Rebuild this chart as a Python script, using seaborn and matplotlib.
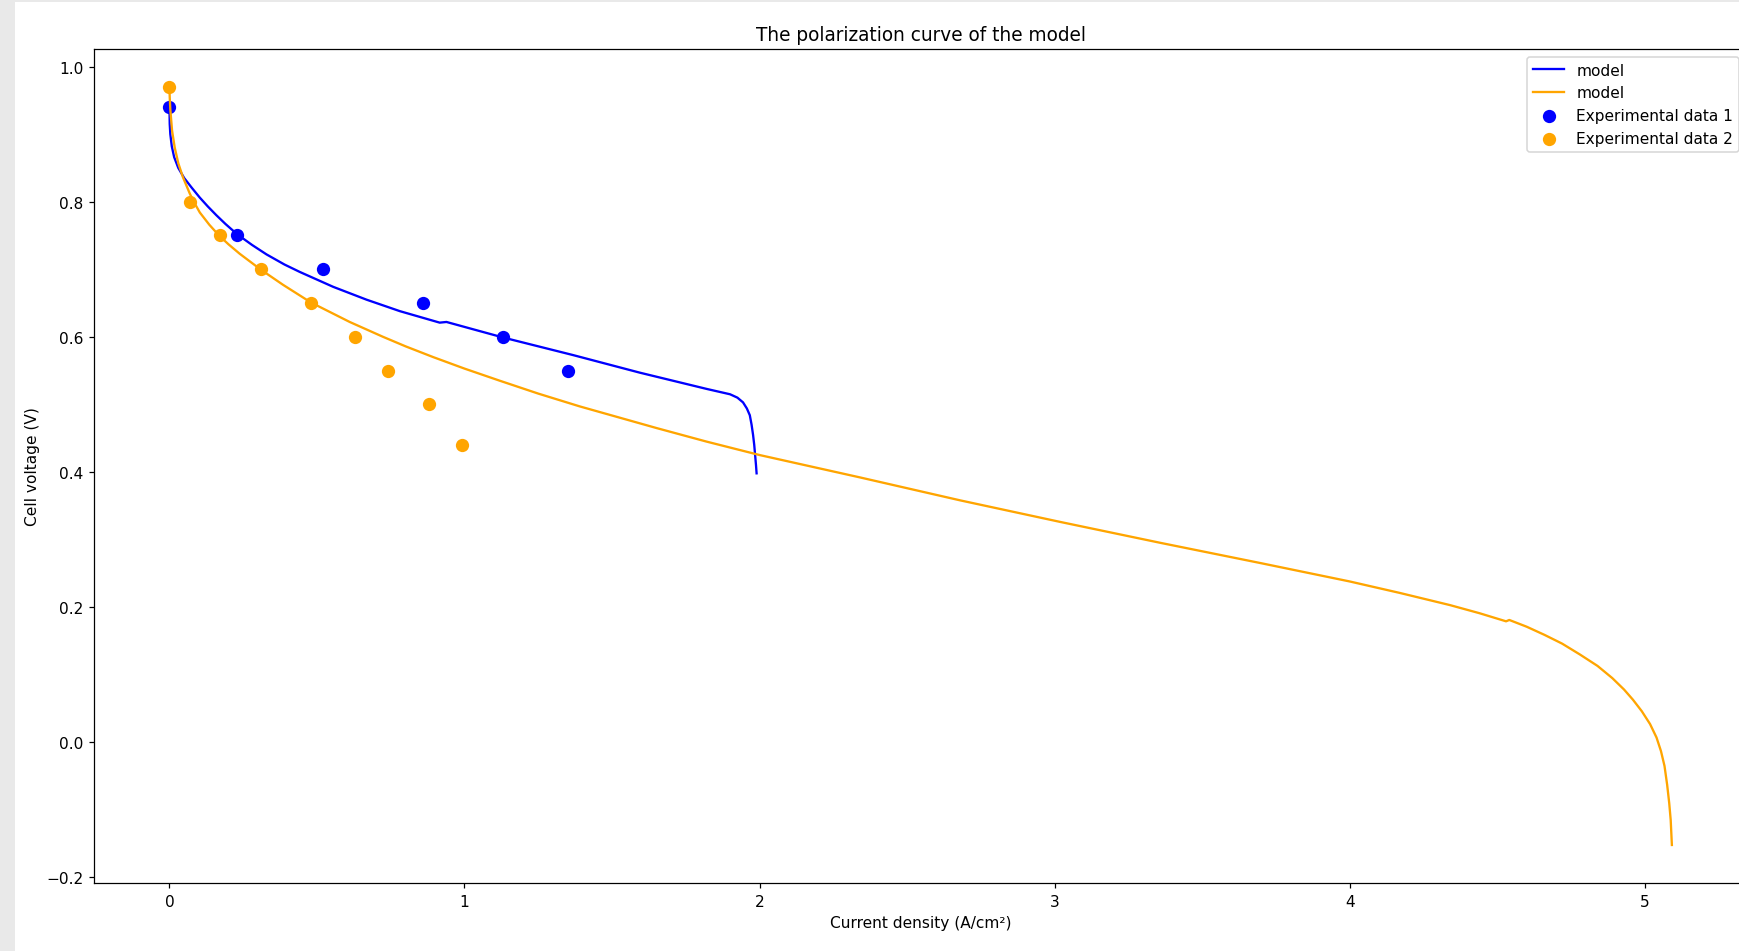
import matplotlib
matplotlib.use("Agg")
import matplotlib.pyplot as plt
from matplotlib.patches import Rectangle
import seaborn as sns

# Model curve 1 (blue): current density (A/cm²) vs cell voltage (V)
model1_j = [0.000, 0.001, 0.003, 0.008, 0.016, 0.030, 0.050, 0.075, 0.103, 0.130,
            0.159, 0.190, 0.229, 0.280, 0.329, 0.390, 0.442, 0.555, 0.668, 0.781,
            0.916, 0.939, 1.131, 1.368, 1.594, 1.820, 1.900, 1.925, 1.944, 1.957,
            1.967, 1.973, 1.978, 1.982, 1.985, 1.988, 1.990]
model1_v = [0.940, 0.915, 0.900, 0.882, 0.866, 0.850, 0.835, 0.821, 0.806, 0.793,
            0.780, 0.767, 0.752, 0.736, 0.722, 0.707, 0.696, 0.674, 0.655, 0.638,
            0.621, 0.622, 0.599, 0.573, 0.547, 0.523, 0.515, 0.510, 0.503, 0.494,
            0.484, 0.470, 0.455, 0.440, 0.425, 0.410, 0.398]

# Model curve 2 (orange)
model2_j = [0.000, 0.001, 0.003, 0.009, 0.018, 0.030, 0.046, 0.069, 0.085, 0.103,
            0.135, 0.168, 0.200, 0.238, 0.308, 0.385, 0.479, 0.611, 0.724, 0.800,
            0.894, 1.000, 1.120, 1.250, 1.391, 1.651, 1.820, 2.001, 2.340, 2.680,
            3.020, 3.360, 3.700, 4.000, 4.170, 4.340, 4.440, 4.530, 4.541, 4.600,
            4.660, 4.720, 4.780, 4.840, 4.890, 4.930, 4.960, 4.990, 5.018, 5.040,
            5.055, 5.067, 5.076, 5.083, 5.088, 5.092]
model2_v = [0.970, 0.955, 0.937, 0.905, 0.880, 0.857, 0.836, 0.812, 0.798, 0.784,
            0.766, 0.750, 0.737, 0.723, 0.700, 0.677, 0.651, 0.622, 0.600, 0.586,
            0.570, 0.553, 0.535, 0.516, 0.497, 0.465, 0.445, 0.425, 0.392, 0.358,
            0.326, 0.295, 0.265, 0.238, 0.221, 0.203, 0.191, 0.179, 0.181, 0.171,
            0.159, 0.146, 0.130, 0.113, 0.095, 0.078, 0.063, 0.046, 0.027, 0.007,
            -0.013, -0.035, -0.063, -0.090, -0.115, -0.152]

# Measured polarization points
exp1_j = [0.00, 0.23, 0.52, 0.86, 1.13, 1.35]
exp1_v = [0.94, 0.75, 0.70, 0.65, 0.60, 0.55]
exp2_j = [0.00, 0.07, 0.17, 0.31, 0.48, 0.63, 0.74, 0.88, 0.99]
exp2_v = [0.97, 0.80, 0.75, 0.70, 0.65, 0.60, 0.55, 0.50, 0.44]

W, H = 1739, 952
DPI = 111
fig = plt.figure(figsize=(W / DPI, H / DPI), dpi=DPI)
fig.patch.set_facecolor("#e9e9e9")
fig.add_artist(Rectangle((15 / W, 0), 1 - 15 / W, (H - 3) / H,
                         transform=fig.transFigure, facecolor="white",
                         edgecolor="none", zorder=-1))

left, right, top, bottom = 94.3, 1747.0, 49.9, 883.9
ax = fig.add_axes([left / W, 1 - bottom / H, (right - left) / W, (bottom - top) / H])

sns.lineplot(x=model1_j, y=model1_v, color="blue", label="model",
             sort=False, estimator=None, linewidth=1.5, ax=ax)
sns.lineplot(x=model2_j, y=model2_v, color="orange", label="model",
             sort=False, estimator=None, linewidth=1.5, ax=ax)
sns.scatterplot(x=exp1_j, y=exp1_v, color="blue", s=74, linewidth=0,
                label="Experimental data 1", ax=ax)
sns.scatterplot(x=exp2_j, y=exp2_v, color="orange", s=74, linewidth=0,
                label="Experimental data 2", ax=ax)

ax.set_title("The polarization curve of the model", fontsize=12)
ax.set_xlabel("Current density (A/cm²)")
ax.set_ylabel("Cell voltage (V)")
ax.legend(loc="upper right")

fig.savefig("out.png", dpi=DPI, facecolor=fig.get_facecolor())
